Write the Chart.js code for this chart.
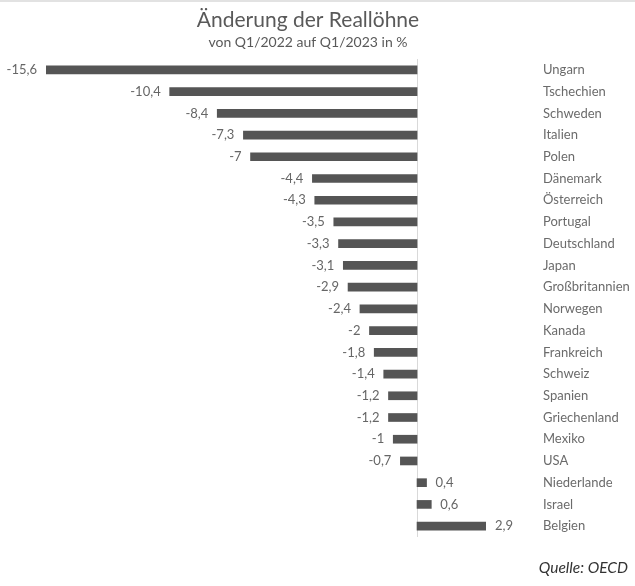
<!DOCTYPE html>
<html>
<head>
<meta charset="utf-8">
<script src="https://cdn.jsdelivr.net/npm/chart.js@4"></script>
<style>
  html, body { margin: 0; padding: 0; background: #fff; }
  #wrap { position: relative; width: 635px; height: 586px; border-top: 2px solid #e2e2e2; box-sizing: border-box; }
  canvas { display: block; }
</style>
</head>
<body>
<div id="wrap"><canvas id="c" width="635" height="584"></canvas></div>
<script>
// Real wage change, Q1/2022 to Q1/2023, in percent
const countries = [
  'Ungarn', 'Tschechien', 'Schweden', 'Italien', 'Polen', 'Dänemark',
  'Österreich', 'Portugal', 'Deutschland', 'Japan', 'Großbritannien',
  'Norwegen', 'Kanada', 'Frankreich', 'Schweiz', 'Spanien',
  'Griechenland', 'Mexiko', 'USA', 'Niederlande', 'Israel', 'Belgien'
];
const changes = [
  -15.6, -10.4, -8.4, -7.3, -7, -4.4,
  -4.3, -3.5, -3.3, -3.1, -2.9,
  -2.4, -2, -1.8, -1.4, -1.2,
  -1.2, -1, -0.7, 0.4, 0.6, 2.9
];
const titleText = 'Änderung der Reallöhne';
const subtitleText = 'von Q1/2022 auf Q1/2023 in %';
const sourceText = 'Quelle: OECD';

const FONT = 'Lato, "Open Sans", sans-serif';
const fmt = v => String(v).replace('.', ',');

// Zero line, value labels, headings and source note
const decorations = {
  id: 'decorations',
  beforeDatasetsDraw(chart) {
    const { ctx, chartArea, scales } = chart;
    const x0 = Math.round(scales.x.getPixelForValue(0)) + 0.5;
    ctx.save();
    ctx.strokeStyle = '#d9d9d9';
    ctx.lineWidth = 1;
    ctx.beginPath();
    ctx.moveTo(x0, chartArea.top);
    ctx.lineTo(x0, chartArea.bottom);
    ctx.stroke();
    ctx.restore();
  },
  afterDatasetsDraw(chart) {
    const { ctx } = chart;
    const meta = chart.getDatasetMeta(0);
    ctx.save();
    ctx.font = '13px ' + FONT;
    ctx.fillStyle = '#666666';
    ctx.textBaseline = 'middle';
    meta.data.forEach((bar, i) => {
      const v = changes[i];
      if (v < 0) {
        ctx.textAlign = 'right';
        ctx.fillText(fmt(v), bar.x - 9, bar.y);
      } else {
        ctx.textAlign = 'left';
        ctx.fillText(fmt(v), bar.x + 9, bar.y);
      }
    });
    ctx.restore();
  },
  afterDraw(chart) {
    const { ctx } = chart;
    ctx.save();
    ctx.fillStyle = '#595959';
    ctx.textAlign = 'center';
    ctx.textBaseline = 'alphabetic';
    ctx.font = '21px ' + FONT;
    ctx.fillText(titleText, 308, 25);
    ctx.font = '14px ' + FONT;
    ctx.fillText(subtitleText, 308, 45);
    ctx.fillStyle = '#333333';
    ctx.textAlign = 'right';
    ctx.font = 'italic 15.5px ' + FONT;
    ctx.fillText(sourceText, 628, 571);
    ctx.restore();
  }
};

new Chart(document.getElementById('c'), {
  type: 'bar',
  data: {
    labels: countries,
    datasets: [{
      data: changes,
      backgroundColor: '#555555',
      barThickness: 8
    }]
  },
  options: {
    indexAxis: 'y',
    responsive: false,
    animation: false,
    layout: { padding: { left: 46, top: 57, right: 0, bottom: 49 } },
    plugins: {
      legend: { display: false },
      tooltip: { enabled: false }
    },
    scales: {
      x: {
        display: false,
        min: -15.6,
        max: 2.9
      },
      y: {
        position: 'right',
        grid: { display: false, drawTicks: false },
        border: { display: false },
        ticks: {
          color: '#6b6b6b',
          font: { family: FONT, size: 13 },
          padding: 57,
          crossAlign: 'near',
          autoSkip: false
        },
        afterFit(scale) {
          scale.width = 149;
          scale.paddingTop = 0;
          scale.paddingBottom = 0;
        }
      }
    }
  },
  plugins: [decorations]
});
</script>
</body>
</html>
